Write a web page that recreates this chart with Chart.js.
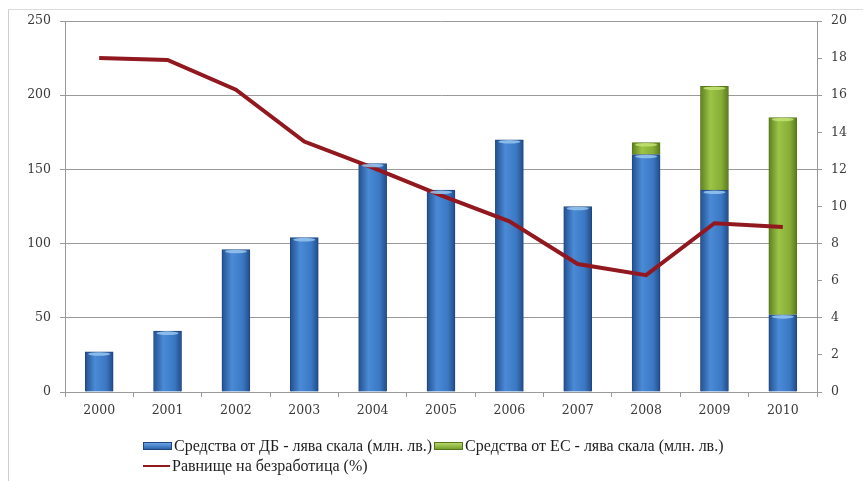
<!DOCTYPE html>
<html lang="bg">
<head>
<meta charset="utf-8">
<script src="https://cdn.jsdelivr.net/npm/chart.js@4.4.1/dist/chart.umd.min.js"></script>
<style>
  html, body { margin: 0; padding: 0; background: #fff; }
  #wrap { position: relative; width: 863px; height: 481px; overflow: hidden; }
  #frame { position: absolute; left: 8px; top: 9px; right: -2px; bottom: -2px;
           border-left: 1px solid #cfcfcf; border-top: 1px solid #dcdcdc; }
  #canvas { position: absolute; left: 0; top: 0; }
  #legend { position: absolute; left: 143px; top: 436px; width: 680px;
            font-family: "Liberation Serif", "DejaVu Serif", serif; font-size: 16px; color: #1e1e1e; }
  .row { display: flex; align-items: center; height: 20px; }
  .item { display: flex; align-items: center; margin-right: 2px; white-space: nowrap; }
  .mark { width: 27px; margin-right: 2px; }
</style>
</head>
<body>
<div id="wrap">
  <div id="frame"></div>
  <canvas id="canvas" width="863" height="481"></canvas>
  <div id="legend"></div>
</div>
<script>
// години
const years = ['2000', '2001', '2002', '2003', '2004', '2005', '2006', '2007', '2008', '2009', '2010'];
// средства от държавния бюджет, млн. лв.
const fundsDB = [27, 41, 96, 104, 154, 136, 170, 125, 160, 136, 52];
// средства от ЕС, млн. лв.
const fundsEU = [0, 0, 0, 0, 0, 0, 0, 0, 8, 70, 133];
// равнище на безработица, %
const unemployment = [18.0, 17.9, 16.3, 13.5, 12.1, 10.6, 9.2, 6.9, 6.3, 9.1, 8.9];

const leftTicks = [0, 50, 100, 150, 200, 250];
const rightTicks = [0, 2, 4, 6, 8, 10, 12, 14, 16, 18, 20];

const labelDB = 'Средства от ДБ - лява скала (млн. лв.)';
const labelEU = 'Средства от ЕС - лява скала (млн. лв.)';
const labelRate = 'Равнище на безработица (%)';

const BAR_W = 28;

// цилиндричен ефект: хоризонтален градиент за всяка колона
function barFill(stops, solid) {
    return function (c) {
        if (c.dataIndex === undefined || !c.chart.chartArea) return solid;
        const x = c.chart.scales.x.getPixelForValue(c.dataIndex);
        const g = c.chart.ctx.createLinearGradient(x - BAR_W / 2, 0, x + BAR_W / 2, 0);
        g.addColorStop(0, stops[0]);
        g.addColorStop(0.35, stops[1]);
        g.addColorStop(0.75, stops[2]);
        g.addColorStop(1, stops[3]);
        return g;
    };
}

const blueStops = ['#24508f', '#4a8ad6', '#3b78c3', '#224c88'];
const greenStops = ['#5f7f22', '#9cc446', '#86ad36', '#5a7a1f'];

// светла горна "капачка" на колоните
const capPlugin = {
    id: 'barCaps',
    afterDatasetsDraw(chart) {
        const ctx = chart.ctx;
        [0, 1].forEach(function (di) {
            const meta = chart.getDatasetMeta(di);
            const light = di === 0 ? 'rgba(150,198,240,0.85)' : 'rgba(195,226,115,0.85)';
            meta.data.forEach(function (bar, i) {
                const v = chart.data.datasets[di].data[i];
                if (!v) return;
                ctx.save();
                ctx.fillStyle = light;
                ctx.beginPath();
                ctx.ellipse(bar.x, bar.y + 2, BAR_W / 2 - 3, 1.8, 0, 0, Math.PI * 2);
                ctx.fill();
                ctx.restore();
            });
        });
    }
};

const config = {
    type: 'bar',
    data: {
        labels: years,
        datasets: [
            {
                label: labelDB,
                data: fundsDB,
                backgroundColor: barFill(blueStops, '#3b78c3'),
                borderColor: '#1f467e',
                borderWidth: 1,
                borderSkipped: 'bottom',
                barThickness: BAR_W,
                stack: 'funds',
                yAxisID: 'y',
                order: 2
            },
            {
                label: labelEU,
                data: fundsEU,
                backgroundColor: barFill(greenStops, '#86ad36'),
                borderColor: '#57761c',
                borderWidth: 1,
                borderSkipped: 'bottom',
                barThickness: BAR_W,
                stack: 'funds',
                yAxisID: 'y',
                order: 2
            },
            {
                type: 'line',
                label: labelRate,
                data: unemployment,
                borderColor: '#921820',
                borderWidth: 4,
                pointRadius: 0,
                tension: 0,
                yAxisID: 'y2',
                order: 1
            }
        ]
    },
    options: {
        responsive: false,
        animation: false,
        layout: { padding: { top: 21, left: 0, right: 0, bottom: 0 } },
        plugins: {
            legend: { display: false },
            tooltip: { enabled: false }
        },
        scales: {
            x: {
                stacked: true,
                grid: { drawOnChartArea: false, tickLength: 5, color: '#9a9a9a', offset: true },
                border: { color: '#9a9a9a' },
                ticks: { padding: 6, color: '#3a3a3a', font: { family: 'DejaVu Serif', size: 12.5 } },
                afterFit: function (s) { s.height = 89; }
            },
            y: {
                stacked: true,
                min: 0,
                max: 250,
                afterBuildTicks: function (s) { s.ticks = leftTicks.map(v => ({ value: v })); },
                grid: { color: '#9a9a9a', tickLength: 5 },
                border: { color: '#9a9a9a' },
                ticks: { padding: 9, color: '#3a3a3a', font: { family: 'DejaVu Serif', size: 12.5 } },
                afterFit: function (s) { s.width = 65; }
            },
            y2: {
                position: 'right',
                min: 0,
                max: 20,
                afterBuildTicks: function (s) { s.ticks = rightTicks.map(v => ({ value: v })); },
                grid: { drawOnChartArea: false, tickLength: 5, color: '#9a9a9a' },
                border: { color: '#9a9a9a' },
                ticks: { padding: 9, color: '#3a3a3a', font: { family: 'DejaVu Serif', size: 12.5 } },
                afterFit: function (s) { s.width = 46; }
            }
        }
    },
    plugins: [capPlugin]
};

const chart = new Chart(document.getElementById('canvas').getContext('2d'), config);

// легенда в два реда под графиката
function buildLegend() {
    const box = document.getElementById('legend');
    const marks = [
        'height:6px;border:1px solid #1f467e;background:linear-gradient(#6aa3e6,#2e64aa);',
        'height:6px;border:1px solid #57761c;background:linear-gradient(#b7d868,#76a02b);',
        'height:2px;background:#921820;'
    ];
    const rows = [[0, 1], [2]];
    rows.forEach(function (r) {
        const row = document.createElement('div');
        row.className = 'row';
        r.forEach(function (i) {
            const item = document.createElement('div');
            item.className = 'item';
            const m = document.createElement('span');
            m.className = 'mark';
            m.style.cssText = marks[i];
            const t = document.createElement('span');
            t.textContent = chart.data.datasets[i].label;
            item.appendChild(m);
            item.appendChild(t);
            row.appendChild(item);
        });
        box.appendChild(row);
    });
}
buildLegend();
</script>
</body>
</html>
